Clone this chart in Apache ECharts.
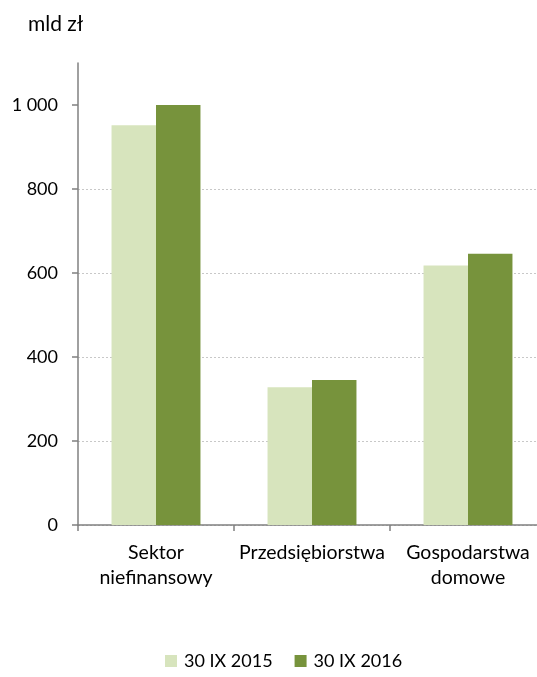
<!DOCTYPE html>
<html>
<head>
<meta charset="utf-8">
<script src="https://cdn.jsdelivr.net/npm/echarts@6/dist/echarts.min.js"></script>
<style>
  html, body { margin: 0; padding: 0; background: #fff; overflow: hidden; }
  /* the plot area runs a few pixels past the right edge in the original */
  #chart { width: 546px; height: 677px; }
</style>
</head>
<body>
<div id="chart"></div>
<script>
const categories = ['Sektor\nniefinansowy', 'Przedsiębiorstwa', 'Gospodarstwa\ndomowe'];
const values2015 = [952, 328, 618];
const values2016 = [1000, 345, 646];
const seriesNames = ['30 IX 2015', '30 IX 2016'];
const yTicks = [0, 200, 400, 600, 800, 1000];

const font = 'Lato, "Liberation Sans", sans-serif';
const chart = echarts.init(document.getElementById('chart'));

chart.setOption({
  animation: false,
  textStyle: { fontFamily: font },
  title: {
    text: 'mld zł',
    left: 23,
    top: 9,
    textStyle: { fontFamily: font, fontSize: 21, fontWeight: 'normal', color: '#000' }
  },
  legend: {
    bottom: 2,
    left: 160,
    itemWidth: 12,
    itemHeight: 12,
    itemGap: 22,
    icon: 'rect',
    textStyle: { fontFamily: font, fontSize: 18, color: '#000', padding: [0, 0, 0, 2] },
    data: seriesNames
  },
  grid: {
    left: 78,
    right: 0,
    top: 63,
    bottom: 152,
    containLabel: false
  },
  xAxis: {
    type: 'category',
    data: categories,
    axisLine: { lineStyle: { color: '#808080', width: 1.5 } },
    axisTick: { show: true, length: 6, lineStyle: { color: '#808080', width: 1.5 } },
    axisLabel: {
      interval: 0,
      margin: 15,
      lineHeight: 25,
      fontSize: 19.5,
      color: '#000',
      fontFamily: font
    }
  },
  yAxis: {
    type: 'value',
    min: 0,
    max: 1100,
    interval: 200,
    axisLine: { show: true, lineStyle: { color: '#808080', width: 1.5 } },
    axisTick: { show: true, length: 6, customValues: yTicks, lineStyle: { color: '#808080', width: 1.5 } },
    axisLabel: {
      customValues: yTicks,
      margin: 20,
      fontSize: 18,
      color: '#000',
      fontFamily: font,
      formatter: (v) => v >= 1000 ? String(v).replace(/\B(?=(\d{3})+(?!\d))/g, ' ') : String(v)
    },
    splitLine: {
      show: true,
      showMaxLine: false,
      lineStyle: { color: '#c8c8c8', type: [2, 2], width: 1 }
    }
  },
  series: [
    {
      name: seriesNames[0],
      type: 'bar',
      data: values2015,
      barGap: '0%',
      barCategoryGap: '43%',
      itemStyle: { color: '#d7e4bd' }
    },
    {
      name: seriesNames[1],
      type: 'bar',
      data: values2016,
      barGap: '0%',
      barCategoryGap: '43%',
      itemStyle: { color: '#77933c' }
    }
  ]
});
</script>
</body>
</html>
